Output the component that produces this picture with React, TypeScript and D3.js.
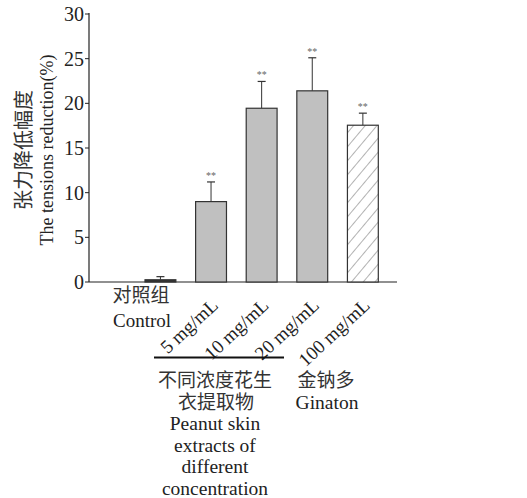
import React from "react";
import * as d3 from "d3";

const groups = ["control", "5", "10", "20", "100"];
const means = [0.25, 9.0, 19.45, 21.4, 17.55];
const errors = [0.35, 2.2, 3.0, 3.7, 1.35];
const stars = ["", "**", "**", "**", "**"];
const doseLabels = ["", "5 mg/mL", "10 mg/mL", "20 mg/mL", "100 mg/mL"];
const yTicks = [0, 5, 10, 15, 20, 25, 30];
const groupTitleCn = ["不同浓度花生", "衣提取物"];
const groupTitleEn = ["Peanut skin", "extracts of", "different", "concentration"];

const serif = "'Liberation Serif', 'Times New Roman', serif";
// serif first so line metrics stay compact, CJK glyphs fall back to Noto
const cjk = "'Liberation Serif', 'Noto Sans CJK SC', sans-serif";

export default function App() {
	const width = 527;
	const height = 498;
	const axisX = 89;

	const y = d3.scaleLinear().domain([0, 30]).range([282, 14]);
	const x = d3.scaleBand().domain(groups).range([145, 378.3]).paddingInner(0.39).paddingOuter(0);
	const bw = x.bandwidth();

	return (
		<svg width={width} height={height} style={{ position: "absolute", left: 0, top: 0, background: "#fff" }}>
			<defs>
				<pattern id="hatch" patternUnits="userSpaceOnUse" width="9" height="9" patternTransform="rotate(-50)">
					<rect width="9" height="9" fill="#fff" />
					<line x1="0" y1="0" x2="9" y2="0" stroke="#555" strokeWidth="0.9" />
				</pattern>
			</defs>

			{/* y axis */}
			<line x1={axisX} x2={axisX} y1={y(30) - 1} y2={y(0)} stroke="#222" strokeWidth={1.2} />
			<line x1={axisX} x2={397} y1={y(0)} y2={y(0)} stroke="#222" strokeWidth={1.2} />
			{yTicks.map(t => (
				<g key={t}>
					<line x1={axisX - 4} x2={axisX} y1={y(t)} y2={y(t)} stroke="#222" strokeWidth={1} />
					<text x={axisX - 5} y={y(t)} dy="0.35em" textAnchor="end" fontFamily={serif} fontSize={20} fill="#222">{t}</text>
				</g>
			))}

			{/* y titles */}
			<text transform="translate(31,150) rotate(-90)" textAnchor="middle" fontFamily={cjk} fontSize={20} fill="#333">张力降低幅度</text>
			<text transform="translate(53,150) rotate(-90)" textAnchor="middle" fontFamily={serif} fontSize={18} fill="#222">The tensions reduction(%)</text>

			{/* bars */}
			{groups.map((g, i) => {
				const x0 = x(g)!;
				const cx = x0 + bw / 2;
				const top = y(means[i]);
				const eTop = y(means[i] + errors[i]);
				const fill = i === 0 ? "#333" : i === 4 ? "url(#hatch)" : "#c0c0c0";
				return (
					<g key={g}>
						<line x1={cx} x2={cx} y1={top} y2={eTop} stroke="#333" strokeWidth={1} />
						<line x1={cx - 4} x2={cx + 4} y1={eTop} y2={eTop} stroke="#333" strokeWidth={1.2} />
						<rect x={x0} y={top} width={bw} height={y(0) - top} fill={fill} stroke="#333" strokeWidth={1.2} />
						{stars[i] && (
							<text x={cx} y={eTop - 3} textAnchor="middle" fontFamily={serif} fontSize={10} fill="#666">{stars[i]}</text>
						)}
						{doseLabels[i] && (
							<text transform={`translate(${cx - 1},${297}) rotate(-43)`} textAnchor="end" dy="0.7em" fontFamily={serif} fontSize={19} fill="#222">{doseLabels[i]}</text>
						)}
					</g>
				);
			})}

			{/* x labels */}
			<text x={141} y={295} dy="0.35em" textAnchor="middle" fontFamily={cjk} fontSize={19} fill="#333">对照组</text>
			<text x={142} y={320} dy="0.35em" textAnchor="middle" fontFamily={serif} fontSize={19} fill="#222">Control</text>

			<line x1={154} x2={284} y1={357.5} y2={357.5} stroke="#111" strokeWidth={2} />

			<text y={380} textAnchor="middle" fontFamily={cjk} fontSize={19} fill="#333">
				{groupTitleCn.map((t, i) => (
					<tspan key={t} x={215 + i} dy={i === 0 ? "0.35em" : 22}>{t}</tspan>
				))}
			</text>
			<text y={423} textAnchor="middle" fontFamily={serif} fontSize={19.5} fill="#222">
				{groupTitleEn.map((t, i) => (
					<tspan key={t} x={215} dy={i === 0 ? "0.35em" : 21.7}>{t}</tspan>
				))}
			</text>

			<text x={326} y={380} dy="0.35em" textAnchor="middle" fontFamily={cjk} fontSize={19} fill="#333">金钠多</text>
			<text x={327} y={402} dy="0.35em" textAnchor="middle" fontFamily={serif} fontSize={19.5} fill="#222">Ginaton</text>
		</svg>
	);
}
